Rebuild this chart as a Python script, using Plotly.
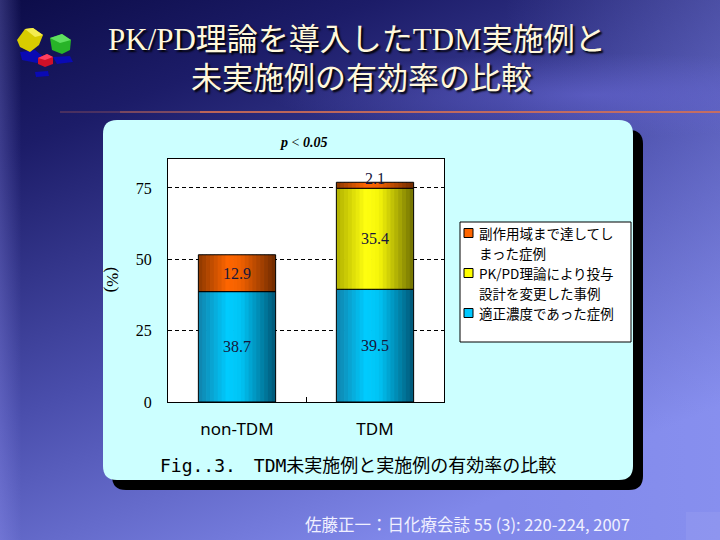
import base64
import plotly.graph_objects as go

# ---------------- data ----------------
categories = ["non-TDM", "TDM"]
proper_pct = [38.7, 39.5]      # 適正濃度であった症例
pkpd_pct = [0.0, 35.4]         # PK/PD理論により投与設計を変更した事例
adverse_pct = [12.9, 2.1]      # 副作用域まで達してしまった症例
series_names = [
    "適正濃度であった症例",
    "PK/PD理論により投与<br>設計を変更した事例",
    "副作用域まで達してし<br>まった症例",
]
y_ticks = [0, 25, 50, 75]
title_lines = ["PK/PD理論を導入したTDM実施例と", "未実施例の有効率の比較"]
caption = "Fig..3.　TDM未実施例と実施例の有効率の比較"
citation = "佐藤正一：日化療会誌 55 (3): 220-224, 2007"
p_text = "<b><i>p</i></b> &lt; <b><i>0.05</i></b>"
y_title = "(%)"

# ---------------- geometry helpers (pixel -> paper) ----------------
L, T, R, B = 168, 159, 444, 402
W, H = R - L, B - T


def px(x):
    return (x - L) / W


def py(y):
    return (B - y) / H


def rrect_path(x0, y0, x1, y1, r):
    def P(x, y):
        return f"{px(x):.5f},{py(y):.5f}"
    return (f"M {P(x0 + r, y0)} L {P(x1 - r, y0)} Q {P(x1, y0)} {P(x1, y0 + r)} "
            f"L {P(x1, y1 - r)} Q {P(x1, y1)} {P(x1 - r, y1)} L {P(x0 + r, y1)} "
            f"Q {P(x0, y1)} {P(x0, y1 - r)} L {P(x0, y0 + r)} Q {P(x0, y0)} {P(x0 + r, y0)} Z")


def poly_path(points):
    return "M " + " L ".join(f"{px(x):.5f},{py(y):.5f}" for x, y in points) + " Z"


def mix(stops, t):
    for (t0, c0), (t1, c1) in zip(stops[:-1], stops[1:]):
        if t0 <= t <= t1:
            f = (t - t0) / (t1 - t0)
            c = [round(a + (b - a) * f) for a, b in zip(c0, c1)]
            return f"rgb({c[0]},{c[1]},{c[2]})"
    c = stops[-1][1]
    return f"rgb({c[0]},{c[1]},{c[2]})"


cyan_stops = [(0, (16, 130, 172)), (0.38, (0, 204, 255)), (0.55, (0, 196, 245)), (1, (0, 86, 118))]
yellow_stops = [(0, (176, 176, 0)), (0.38, (255, 255, 16)), (0.55, (246, 246, 10)), (1, (112, 112, 0))]
orange_stops = [(0, (140, 56, 0)), (0.38, (255, 102, 0)), (0.55, (240, 96, 0)), (1, (110, 42, 0))]

series = [
    (series_names[0], proper_pct, cyan_stops, "#00c8ff"),
    (series_names[1], pkpd_pct, yellow_stops, "#ffff00"),
    (series_names[2], adverse_pct, orange_stops, "#ff6600"),
]

fig = go.Figure()

bar_w = 0.56
N = 20
step = bar_w / N
bases = [0.0] * len(categories)
label_anns = []
for name, vals, stops, peak in series:
    for i in range(N):
        t = (i + 0.5) / N
        w = step * 1.2 if i < N - 1 else step
        fig.add_trace(go.Bar(
            x=categories, y=vals, base=list(bases),
            offset=-bar_w / 2 + i * step, width=w,
            marker=dict(color=mix(stops, t), line=dict(width=0)),
            showlegend=False, hoverinfo="skip",
        ))
    fig.add_trace(go.Bar(
        x=categories, y=vals, base=list(bases),
        offset=-bar_w / 2, width=bar_w,
        marker=dict(color="rgba(0,0,0,0)", line=dict(color="black", width=1)),
        showlegend=False, name=name.replace("<br>", ""),
    ))
    for c, v, b in zip(categories, vals, bases):
        if v > 0:
            label_anns.append(dict(
                x=c, y=b + v / 2, xref="x", yref="y", text=f"{v}", showarrow=False,
                yshift=7 if v < 5 else 0,
                font=dict(family="Liberation Serif, serif", size=16, color="#16163c"),
            ))
    bases = [b + v for b, v in zip(bases, vals)]

# ---------------- background ----------------
svg = """<svg xmlns="http://www.w3.org/2000/svg" width="720" height="540" viewBox="0 0 720 540">
<defs>
<linearGradient id="g" x1="0" y1="0" x2="0.55" y2="1">
<stop offset="0" stop-color="#0c0c48"/>
<stop offset="0.22" stop-color="#1c1c68"/>
<stop offset="0.6" stop-color="#4a4eac"/>
<stop offset="1" stop-color="#8088ea"/>
</linearGradient>
<linearGradient id="h" x1="0" y1="0" x2="1" y2="0">
<stop offset="0" stop-color="#a0a0ff" stop-opacity="0.25"/>
<stop offset="0.03" stop-color="#a0a0ff" stop-opacity="0"/>
<stop offset="0.7" stop-color="#a0a8ff" stop-opacity="0"/>
<stop offset="1" stop-color="#a0a8ff" stop-opacity="0.22"/>
</linearGradient>
<radialGradient id="w" cx="0.5" cy="0.5" r="0.5">
<stop offset="0" stop-color="#6a6ad8" stop-opacity="0.55"/>
<stop offset="1" stop-color="#6a6ad8" stop-opacity="0"/>
</radialGradient>
</defs>
<rect width="720" height="540" fill="url(#g)"/>
<rect width="720" height="540" fill="url(#h)"/>
<ellipse cx="590" cy="95" rx="320" ry="42" fill="url(#w)"/>
<rect x="686" y="512" width="34" height="28" fill="#ffffff" fill-opacity="0.06"/>
</svg>"""
bg_src = "data:image/svg+xml;base64," + base64.b64encode(svg.encode("utf-8")).decode("ascii")

images = [dict(source=bg_src, xref="paper", yref="paper", x=px(0), y=py(0),
               sizex=720 / W, sizey=540 / H, xanchor="left", yanchor="top",
               sizing="stretch", layer="below")]

shapes = []
# panel shadow and panel
shapes.append(dict(type="path", xref="paper", yref="paper", layer="below",
                   path=rrect_path(112, 130, 643, 490, 14), fillcolor="black", line=dict(width=0)))
shapes.append(dict(type="path", xref="paper", yref="paper", layer="below",
                   path=rrect_path(103, 120, 633, 480, 14), fillcolor="#ccffff", line=dict(width=0)))
# plot area white
shapes.append(dict(type="rect", xref="paper", yref="paper", layer="below",
                   x0=0, x1=1, y0=0, y1=1, fillcolor="white", line=dict(width=0)))
# orange separator line under title
for x0, x1, op in [(60, 120, 0.25), (120, 200, 0.5), (200, 720, 0.85)]:
    shapes.append(dict(type="line", xref="paper", yref="paper", layer="below",
                       x0=px(x0), x1=px(x1), y0=py(112), y1=py(112),
                       line=dict(color=f"rgba(214,112,84,{op})", width=2)))
# logo cubes
logo = [
    ([(20, 52), (35, 50), (45, 58), (37, 63), (22, 60)], "#0a0ab4"),
    ([(53, 57), (70, 56), (73, 62), (57, 64)], "#0a0ab4"),
    ([(35, 72), (48, 71), (49, 76), (36, 77)], "#0a0ab4"),
    ([(17, 40), (25, 29), (33, 28), (43, 35), (39, 45), (30, 52), (20, 47)], "#d8cc00"),
    ([(25, 29), (33, 28), (43, 35), (35, 37)], "#f4ec50"),
    ([(50, 38), (62, 34), (71, 40), (70, 50), (62, 54), (52, 50)], "#28b428"),
    ([(50, 38), (62, 34), (71, 40), (60, 43)], "#60e060"),
    ([(38, 58), (47, 54), (53, 57), (53, 64), (45, 67), (38, 64)], "#d01028"),
    ([(38, 58), (47, 54), (53, 57), (45, 60)], "#ff4060"),
]
for pts, col in logo:
    shapes.append(dict(type="path", xref="paper", yref="paper", layer="below",
                       path=poly_path(pts), fillcolor=col, line=dict(width=0)))

# manual legend box
shapes.append(dict(type="rect", xref="paper", yref="paper",
                   x0=px(460), x1=px(631), y0=py(342), y1=py(222),
                   fillcolor="white", line=dict(color="black", width=1)))
legend_anns = []
legend_first_y = {series_names[2]: 233, series_names[1]: 273, series_names[0]: 313}
for name, vals, stops, peak in series:
    y0 = legend_first_y[name]
    shapes.append(dict(type="rect", xref="paper", yref="paper",
                       x0=px(464), x1=px(473), y0=py(y0 + 4.5), y1=py(y0 - 4.5),
                       fillcolor=peak, line=dict(color="black", width=1)))
    for k, line in enumerate(name.split("<br>")):
        legend_anns.append(dict(x=px(478), y=py(y0 + 20 * k), xref="paper", yref="paper",
                                text=line, showarrow=False, xanchor="left", yanchor="middle",
                                borderpad=0,
                                font=dict(family="Noto Sans CJK JP", size=13.5, color="black")))

title_font = dict(family="Liberation Serif, Noto Sans CJK JP, serif", size=31,
                  color="#fff8dc", shadow="2px 2px 2px #000000")
other_anns = [
    dict(x=px(357), y=py(40), xref="paper", yref="paper", text=title_lines[0],
         showarrow=False, xanchor="center", yanchor="middle", font=title_font),
    dict(x=px(361), y=py(78), xref="paper", yref="paper", text=title_lines[1],
         showarrow=False, xanchor="center", yanchor="middle", font=title_font),
    dict(x=px(303), y=py(142), xref="paper", yref="paper", text=p_text,
         showarrow=False, xanchor="center", yanchor="middle",
         font=dict(family="Liberation Serif, serif", size=14, color="black")),
    dict(x=px(113), y=py(279), xref="paper", yref="paper", text=y_title, textangle=90,
         showarrow=False, xanchor="center", yanchor="middle",
         font=dict(family="Liberation Serif, serif", size=17, color="black")),
    dict(x=px(358), y=py(465), xref="paper", yref="paper", text=caption,
         showarrow=False, xanchor="center", yanchor="middle",
         font=dict(family="DejaVu Sans Mono, Noto Sans CJK JP", size=18, color="black")),
    dict(x=px(467), y=py(524), xref="paper", yref="paper", text=citation,
         showarrow=False, xanchor="center", yanchor="middle",
         font=dict(family="Noto Sans CJK JP", size=16.5, color="#f0f0ff")),
]

fig.update_layout(
    width=720, height=540,
    margin=dict(l=L, r=720 - R, t=T, b=540 - B, pad=0),
    paper_bgcolor="#1c1c68",
    plot_bgcolor="rgba(0,0,0,0)",
    barmode="overlay",
    showlegend=False,
    images=images,
    shapes=shapes,
    annotations=label_anns + legend_anns + other_anns,
    xaxis=dict(
        type="category", categoryorder="array", categoryarray=categories,
        range=[-0.5, 1.5], showline=True, linecolor="black", linewidth=1, mirror=True,
        ticks="inside", tickson="boundaries", ticklen=5, tickcolor="black",
        showgrid=False, ticklabelstandoff=12,
        tickfont=dict(family="Noto Sans, Noto Sans CJK JP", size=17, color="black"),
    ),
    yaxis=dict(
        range=[0, 85.16], tickvals=y_ticks, ticktext=[str(v) for v in y_ticks],
        showline=True, linecolor="black", linewidth=1, mirror=True,
        ticks="", showgrid=True, gridcolor="black", gridwidth=1, griddash="4px,3px",
        zeroline=False, ticklabelstandoff=12,
        tickfont=dict(family="Liberation Serif, serif", size=16, color="black"),
    ),
)

fig.write_html(
    "out.html",
    config={"displayModeBar": False},
    post_script="document.body.style.margin='0';document.body.style.overflow='hidden';",
)
